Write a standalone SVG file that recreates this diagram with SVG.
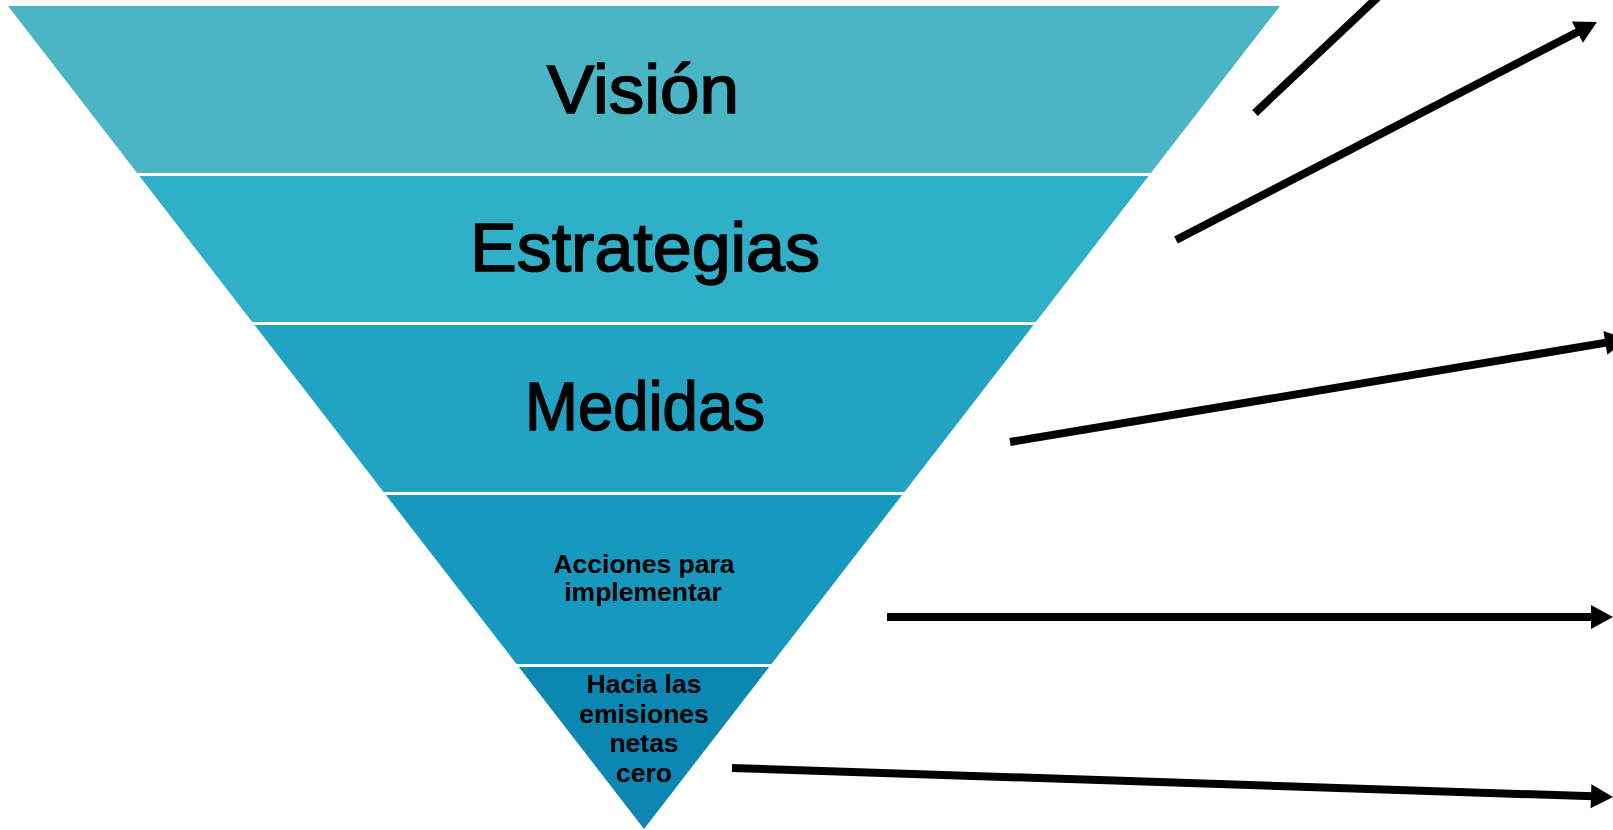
<svg xmlns="http://www.w3.org/2000/svg" width="1613" height="830" viewBox="0 0 1613 830">
  <style>
    .big { font-family: "Liberation Sans", Arial, sans-serif; font-size: 68px; fill: #000; stroke: #000; stroke-width: 1.6; text-anchor: middle; }
    .small { font-family: "Liberation Sans", Arial, sans-serif; font-size: 26.5px; font-weight: bold; fill: #000; text-anchor: middle; }
    .conn { stroke: #000; stroke-width: 8; fill: none; stroke-linecap: butt; }
  </style>
  <defs>
    <marker id="ah" markerUnits="userSpaceOnUse" markerWidth="22" markerHeight="24" refX="10" refY="12" orient="auto" overflow="visible">
      <path d="M0,0 L22,12 L0,24 z" fill="#000"/>
    </marker>
  </defs>
  <rect x="0" y="0" width="1613" height="830" fill="#fff"/>

  <g id="vision">
    <polygon points="8,6 1280,6 1150.9,173 137.1,173" fill="#4BB4C5"/>
    <text class="big" x="643" y="113" textLength="192" lengthAdjust="spacingAndGlyphs">Visión</text>
  </g>
  <g id="estrategias">
    <polygon points="139.4,176 1148.6,176 1035.8,322 252.2,322" fill="#2FB0C8"/>
    <text class="big" x="645" y="271" textLength="350" lengthAdjust="spacingAndGlyphs">Estrategias</text>
  </g>
  <g id="medidas">
    <polygon points="254.5,325 1033.5,325 904.4,492 383.6,492" fill="#22A3C4"/>
    <text class="big" x="645" y="430" textLength="240" lengthAdjust="spacingAndGlyphs">Medidas</text>
  </g>
  <g id="acciones">
    <polygon points="385.9,495 902.1,495 771.5,664 516.5,664" fill="#1698BF"/>
    <text class="small" x="644" y="573">Acciones para</text>
    <text class="small" x="643" y="601">implementar</text>
  </g>
  <g id="emisiones">
    <polygon points="518.8,667 769.2,667 644,829" fill="#0B87B1"/>
    <text class="small" x="644" y="693">Hacia las</text>
    <text class="small" x="644" y="723">emisiones</text>
    <text class="small" x="644" y="752">netas</text>
    <text class="small" x="644" y="782">cero</text>
  </g>

  <g id="connectors">
    <line class="conn" x1="1255" y1="113" x2="1396" y2="-20"/>
    <line class="conn" x1="1176" y1="240" x2="1586.3" y2="27.5" marker-end="url(#ah)"/>
    <line class="conn" x1="1010" y1="442" x2="1615.2" y2="341.2" marker-end="url(#ah)"/>
    <line class="conn" x1="887" y1="617" x2="1601" y2="617" marker-end="url(#ah)"/>
    <line class="conn" x1="732" y1="768" x2="1601" y2="796.6" marker-end="url(#ah)"/>
  </g>
</svg>
